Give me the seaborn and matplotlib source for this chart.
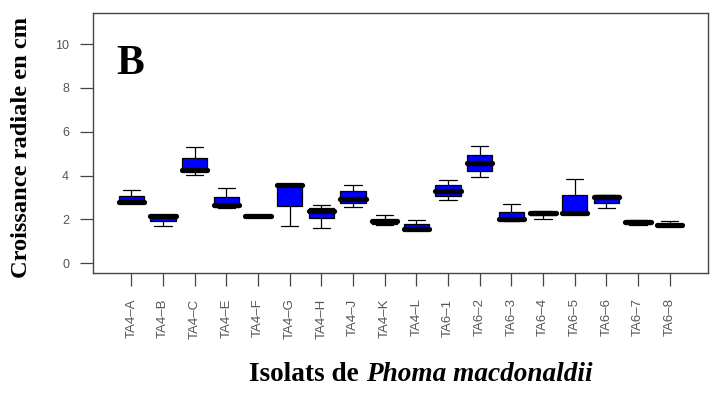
"""
Croissance radiale des isolats de Phoma macdonaldii (panel B), R-style boxplot.
"""

import pandas as pd
import matplotlib
matplotlib.use("Agg")
import matplotlib.pyplot as plt
import seaborn as sns

isolates = ["TA4–A", "TA4–B", "TA4–C", "TA4–E", "TA4–F", "TA4–G", "TA4–H",
            "TA4–J", "TA4–K", "TA4–L", "TA6–1", "TA6–2", "TA6–3", "TA6–4",
            "TA6–5", "TA6–6", "TA6–7", "TA6–8"]

# five-number summaries (cm)
mins    = [2.75, 1.68, 4.03, 2.50, 2.12, 1.68, 1.62, 2.56, 1.75, 1.50, 2.87, 3.91, 1.90, 2.03, 2.25, 2.50, 1.75, 1.70]
q1s     = [2.77, 1.93, 4.20, 2.55, 2.13, 2.63, 2.05, 2.75, 1.80, 1.52, 3.08, 4.20, 1.95, 2.20, 2.26, 2.73, 1.80, 1.71]
medians = [2.80, 2.15, 4.27, 2.65, 2.14, 3.57, 2.40, 2.95, 1.90, 1.58, 3.31, 4.55, 2.02, 2.27, 2.29, 3.02, 1.86, 1.73]
q3s     = [3.05, 2.18, 4.79, 3.02, 2.15, 3.60, 2.50, 3.27, 1.97, 1.80, 3.57, 4.93, 2.35, 2.33, 3.10, 3.10, 1.92, 1.80]
maxs    = [3.33, 2.20, 5.28, 3.45, 2.16, 3.62, 2.67, 3.57, 2.21, 1.98, 3.80, 5.34, 2.69, 2.38, 3.86, 3.12, 1.95, 1.94]

yticks = [0, 2, 4, 6, 8, 10]

SERIF = "Liberation Serif"
SANS = "Liberation Sans"
GREY = "#555555"
FRAME = "#444444"


def main():
    rows = []
    for i, name in enumerate(isolates):
        for v in (mins[i], q1s[i], medians[i], q3s[i], maxs[i]):
            rows.append({"isolate": name, "croissance": v})
    df = pd.DataFrame(rows)

    sns.set_style("white")
    plt.rcParams["font.family"] = [SANS, "DejaVu Sans"]
    plt.rcParams["text.color"] = "black"

    fig = plt.figure(figsize=(7.19, 3.93), dpi=100)
    ax = fig.add_axes([0.129, 0.306, 0.856, 0.662])

    sns.boxplot(data=df, x="isolate", y="croissance", order=isolates, ax=ax,
                color="#0000ff", saturation=1, width=0.8, whis=(0, 100),
                showfliers=False, linecolor="black", linewidth=0.9,
                medianprops=dict(linewidth=3.8, solid_capstyle="round", color="black"),
                capwidths=0.55)

    ax.set_xlim(-1.22, 18.22)
    ax.set_ylim(-0.44, 11.44)
    ax.set_yticks(yticks)
    ax.set_xlabel("")
    ax.set_ylabel("")

    for s in ax.spines.values():
        s.set_visible(True)
        s.set_color(FRAME)
        s.set_linewidth(1.0)

    ax.tick_params(axis="both", which="major", direction="out", length=9.5,
                   width=0.9, color=FRAME, labelcolor=GREY, labelsize=9,
                   bottom=True, left=True)
    ax.tick_params(axis="y", pad=7.5)
    ax.tick_params(axis="x", pad=9, labelrotation=90, labelsize=9.5)

    ax.text(-0.47, 8.63, "B", fontsize=30, fontweight="bold", family=SERIF,
            va="baseline", ha="left", color="black")

    fig.text(22 / 719, 1 - 147 / 393, "Croissance radiale en cm", rotation=90,
             fontsize=17.6, fontweight="bold", family=SERIF, ha="center",
             va="center", color="black")

    # x label: bold + bold italic, centred as a whole
    y_lab = 1 - 381 / 393
    t1 = fig.text(0, y_lab, "Isolats de ", fontsize=19.6, fontweight="bold",
                  family=SERIF, va="baseline", ha="left", color="black")
    t2 = fig.text(0, y_lab, "Phoma macdonaldii", fontsize=19.6, fontweight="bold",
                  fontstyle="italic", family=SERIF, va="baseline", ha="left",
                  color="black")
    fig.canvas.draw()
    r = fig.canvas.get_renderer()
    w1 = t1.get_window_extent(r).width
    w2 = t2.get_window_extent(r).width
    x0 = 421 - (w1 + w2) / 2
    t1.set_x(x0 / 719)
    t2.set_x((x0 + w1) / 719)

    fig.savefig("out.png", dpi=100)
    plt.close(fig)


if __name__ == "__main__":
    main()
